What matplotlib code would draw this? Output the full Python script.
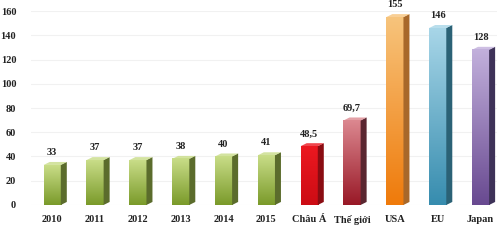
import numpy as np
import matplotlib.pyplot as plt
from matplotlib.colors import LinearSegmentedColormap
from matplotlib.patches import Polygon

# data
categories = ['2010', '2011', '2012', '2013', '2014', '2015',
              'Châu Á', 'Thế giới', 'USA', 'EU', 'Japan']
values = [33, 37, 37, 38, 40, 41, 48.5, 69.7, 155, 146, 128]
value_labels = ['33', '37', '37', '38', '40', '41', '48,5', '69,7', '155', '146', '128']
yticks = [0, 20, 40, 60, 80, 100, 120, 140, 160]

# styles: (top of front face, bottom of front face, side face)
green = ('#c9dd88', '#7a9a2a', '#5b6c2c')
bar_styles = [green] * 6 + [
    ('#ec1820', '#cc0c14', '#8a0c12'),
    ('#dc8890', '#981826', '#5a2630'),
    ('#f7c47c', '#ef7a0a', '#a8682a'),
    ('#a8d6e8', '#368cae', '#2b6276'),
    ('#c2b0dc', '#684990', '#3e3258'),
]

plt.rcParams['font.family'] = ['Liberation Serif', 'DejaVu Serif']

fig = plt.figure(figsize=(4.97, 2.40), dpi=100)
ax = fig.add_axes([0.062, 0.146, 0.948, 0.808])

x = np.arange(len(categories))
width = 0.4
bars = ax.bar(x, values, width=width, color='none', zorder=3)

xlim = (-0.5, len(categories) - 0.5)
ylim = (0, 160)

# depth of the fake 3d boxes, in pixels converted to data units
ax_w = fig.get_figwidth() * fig.dpi * 0.948
ax_h = fig.get_figheight() * fig.dpi * 0.808
dx = 6 / (ax_w / (xlim[1] - xlim[0]))
dy = 3 / (ax_h / (ylim[1] - ylim[0]))

grad = np.linspace(1, 0, 256).reshape(-1, 1)
for bar, (c_top, c_bot, c_side), lab in zip(bars, bar_styles, value_labels):
    x0 = bar.get_x()
    x1 = x0 + bar.get_width()
    h = bar.get_height()
    cmap = LinearSegmentedColormap.from_list('g', [c_bot, c_top])
    ax.imshow(grad, extent=[x0, x1, 0, h], aspect='auto', cmap=cmap,
              zorder=3, origin='upper')
    side = Polygon([(x1, 0), (x1, h), (x1 + dx, h + dy), (x1 + dx, dy)],
                   closed=True, facecolor=c_side, edgecolor='none', zorder=3)
    ax.add_patch(side)
    top = Polygon([(x0, h), (x1, h), (x1 + dx, h + dy), (x0 + dx, h + dy)],
                  closed=True, facecolor=c_top, edgecolor='none', zorder=3,
                  alpha=0.8)
    ax.add_patch(top)
    ax.text(x0 + (x1 - x0) / 2, h + dy + 4, lab, ha='center', va='bottom',
            fontsize=7.5, fontweight='bold', color='#222222', clip_on=False)

ax.set_xlim(*xlim)
ax.set_ylim(*ylim)
ax.set_yticks(yticks)
ax.set_xticks(x)
ax.set_xticklabels(categories)
ax.tick_params(length=0, labelsize=7.5, colors='#222222')
ax.tick_params(axis='y', pad=10.5)
ax.tick_params(axis='x', pad=7)
for t in ax.get_xticklabels() + ax.get_yticklabels():
    t.set_fontweight('bold')
for s in ax.spines.values():
    s.set_visible(False)
ax.yaxis.grid(True, color='#f1f1f1', linewidth=0.8, zorder=0)
ax.set_axisbelow(True)

fig.savefig('out.png', dpi=100)
